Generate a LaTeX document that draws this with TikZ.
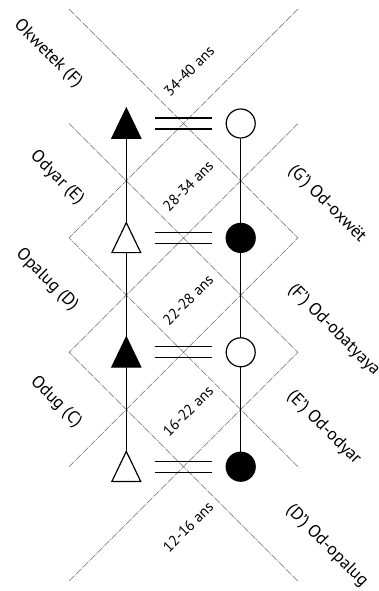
\documentclass[tikz,border=0pt]{standalone}
\usepackage{fontspec}
\setmainfont{PT Sans}
\begin{document}
\begin{tikzpicture}[x=1pt,y=-1pt,
  grid/.style={draw=black!60, line width=0.5pt, dash pattern=on 7pt off 1pt on 1pt off 1pt},
  kin/.style={line width=1.2pt},
  fem/.style={circle, draw, line width=1.2pt, minimum size=29pt, inner sep=0pt},
  lab/.style={font=\fontsize{17.5}{19}\selectfont, rotate=-45, inner sep=0pt},
  age/.style={font=\fontsize{15}{17}\selectfont, rotate=45, inner sep=0pt}]
\useasboundingbox (0,0) rectangle (379,591);
% lattice corners
\coordinate (L0) at (69.1,9.1);   \coordinate (R0) at (297.9,9.1);
\coordinate (L1) at (69.1,123.5); \coordinate (R1) at (297.9,123.5);
\coordinate (L2) at (69.1,237.9); \coordinate (R2) at (297.9,237.9);
\coordinate (L3) at (69.1,352.3); \coordinate (R3) at (297.9,352.3);
\coordinate (L4) at (69.1,466.7); \coordinate (R4) at (297.9,466.7);
\coordinate (L5) at (69.1,581.1); \coordinate (R5) at (297.9,581.1);
\draw[grid] (L0) -- (R2) -- (L4);
\draw[grid] (R0) -- (L2) -- (R4);
\draw[grid] (L1) -- (R3) -- (L5);
\draw[grid] (R1) -- (L3) -- (R5);
% symbols
\foreach \k/\f/\g/\c in {1/black/white/123.5,2/white/black/237.9,3/black/white/352.3,4/white/black/466.7}{
  \coordinate (ta\k) at (126.3,\c-15.3);
  \coordinate (tb\k) at (126.3,\c+14.7);
  \draw[kin, fill=\f, line join=miter] (ta\k) -- (111.9,\c+14.7) -- (140.7,\c+14.7) -- cycle;
  \node[fem, fill=\g] (m\k) at (240.7,\c) {};
  \draw[kin] (155,\c-5.5) -- (212,\c-5.5);
  \draw[kin] (155,\c+5.5) -- (212,\c+5.5);
}
\draw[kin] (tb1) -- (ta2);
\draw[kin] (tb2) -- (ta3);
\draw[kin] (tb3) -- (ta4);
\draw[kin] (m1) -- (m2);
\draw[kin] (m2) -- (m3);
\draw[kin] (m3) -- (m4);
% labels
\node[lab] (l1) at (48,54) {Okwetek (F)};
\node[lab] (l2) at (57,178) {Odyar (E)};
\node[lab] (l3) at (47,280) {Opalug (D)};
\node[lab] (l4) at (56,402) {Odug (C)};
\node[lab] (r1) at (327,204) {(G’) Od-oxwët};
\node[lab] (r2) at (334,330) {(F’) Od-obatyaya};
\node[lab] (r3) at (324,428) {(E’) Od-odyar};
\node[lab] (r4) at (327,546) {(D’) Od-opalug};
\node[age] (a1) at (189,71) {34-40 ans};
\node[age] (a2) at (188,186) {28-34 ans};
\node[age] (a3) at (188,300) {22-28 ans};
\node[age] (a4) at (188,411) {16-22 ans};
\node[age] (a5) at (188,527) {12-16 ans};
\end{tikzpicture}
\end{document}
